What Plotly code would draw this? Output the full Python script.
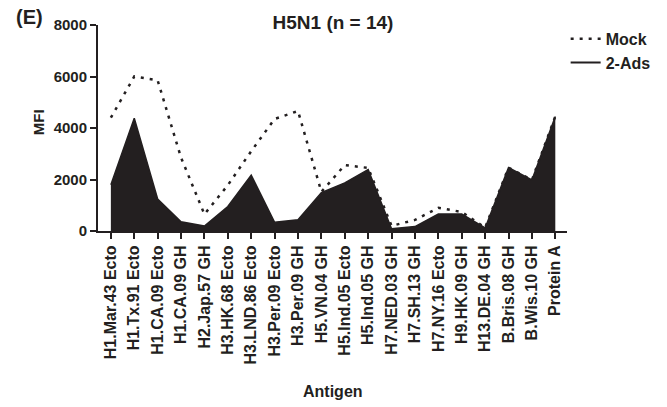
import plotly.graph_objects as go

categories = ["H1.Mar.43 Ecto", "H1.Tx.91 Ecto", "H1.CA.09 Ecto", "H1.CA.09 GH",
              "H2.Jap.57 GH", "H3.HK.68 Ecto", "H3.LND.86 Ecto", "H3.Per.09 Ecto",
              "H3.Per.09 GH", "H5.VN.04 GH", "H5.Ind.05 Ecto", "H5.Ind.05 GH",
              "H7.NED.03 GH", "H7.SH.13 GH", "H7.NY.16 Ecto", "H9.HK.09 GH",
              "H13.DE.04 GH", "B.Bris.08 GH", "B.Wis.10 GH", "Protein A"]
mock = [4400, 6000, 5850, 2850, 650, 1780, 3100, 4350, 4660, 1520,
        2560, 2450, 200, 430, 900, 740, 130, 2460, 1980, 4450]
ads2 = [1800, 4380, 1240, 360, 190, 950, 2170, 340, 440, 1490,
        1870, 2390, 90, 170, 660, 660, 120, 2460, 1980, 4450]
y_ticks = [0, 2000, 4000, 6000, 8000]

FONT = "Liberation Sans"
INK = "#231f20"
W, H = 667, 407
L, R, T, B = 98, 99, 25, 176

x_idx = list(range(len(categories)))

fig = go.Figure()
# filled area for 2-Ads (legend shown via a line-only entry below)
fig.add_trace(go.Scatter(
    x=x_idx, y=ads2, name="2-Ads", mode="lines", showlegend=False,
    line=dict(color=INK, width=1.5), fill="tozeroy", fillcolor=INK,
))
fig.add_trace(go.Scatter(
    x=x_idx, y=mock, name="<b>Mock</b>", mode="lines",
    line=dict(color=INK, width=2.5, dash="3px,6px"),
))
fig.add_trace(go.Scatter(
    x=[None], y=[None], name="<b>2-Ads</b>", mode="lines",
    line=dict(color=INK, width=2),
))

fig.update_layout(
    width=W, height=H,
    margin=dict(l=L, r=R, t=T, b=B, pad=0),
    paper_bgcolor="white", plot_bgcolor="white",
    font=dict(family=FONT, color=INK, size=15),
    showlegend=True,
    legend=dict(
        traceorder="normal",
        x=0.995, xanchor="left", y=1.015, yanchor="top",
        font=dict(family=FONT, size=16, color=INK),
        bgcolor="rgba(0,0,0,0)", itemwidth=30, tracegroupgap=0,
    ),
    title=dict(
        text="<b>H5N1 (n = 14)</b>", x=(L + (W - L - R) / 2) / W, xanchor="center",
        y=1 - 22 / H, yanchor="middle", yref="container",
        font=dict(family=FONT, size=19, color=INK),
    ),
)

fig.update_xaxes(
    range=[-0.55, len(categories) - 0.5],
    tickmode="array", tickvals=x_idx, ticktext=["<b>%s</b>" % c for c in categories],
    tickangle=-90, ticks="outside", ticklen=6, tickwidth=1.5, tickcolor=INK,
    showline=True, linecolor=INK, linewidth=2, showgrid=False, zeroline=False,
    tickfont=dict(family=FONT, size=16, color=INK),
)
fig.update_yaxes(
    range=[0, 8000], tickmode="array", tickvals=y_ticks,
    ticktext=["<b>%d</b>" % v for v in y_ticks],
    ticks="outside", ticklen=6, tickwidth=1.5, tickcolor=INK,
    showline=True, linecolor=INK, linewidth=2, showgrid=False, zeroline=False,
    tickfont=dict(family=FONT, size=15, color=INK),
)

ph = H - T - B
fig.add_annotation(text="<b>(E)</b>", xref="paper", yref="paper",
                   x=(29 - L) / (W - L - R), y=(H - B - 17) / ph,
                   xanchor="center", yanchor="middle", showarrow=False,
                   font=dict(family=FONT, size=20, color=INK))
fig.add_annotation(text="<b>MFI</b>", xref="paper", yref="paper",
                   x=(38 - L) / (W - L - R), y=(H - B - 122) / ph,
                   xanchor="center", yanchor="middle", textangle=-90, showarrow=False,
                   font=dict(family=FONT, size=15, color=INK))
fig.add_annotation(text="<b>Antigen</b>", xref="paper", yref="paper",
                   x=0.5, y=(H - B - 391) / ph,
                   xanchor="center", yanchor="middle", showarrow=False,
                   font=dict(family=FONT, size=16, color=INK))

fig.write_html("out.html")
